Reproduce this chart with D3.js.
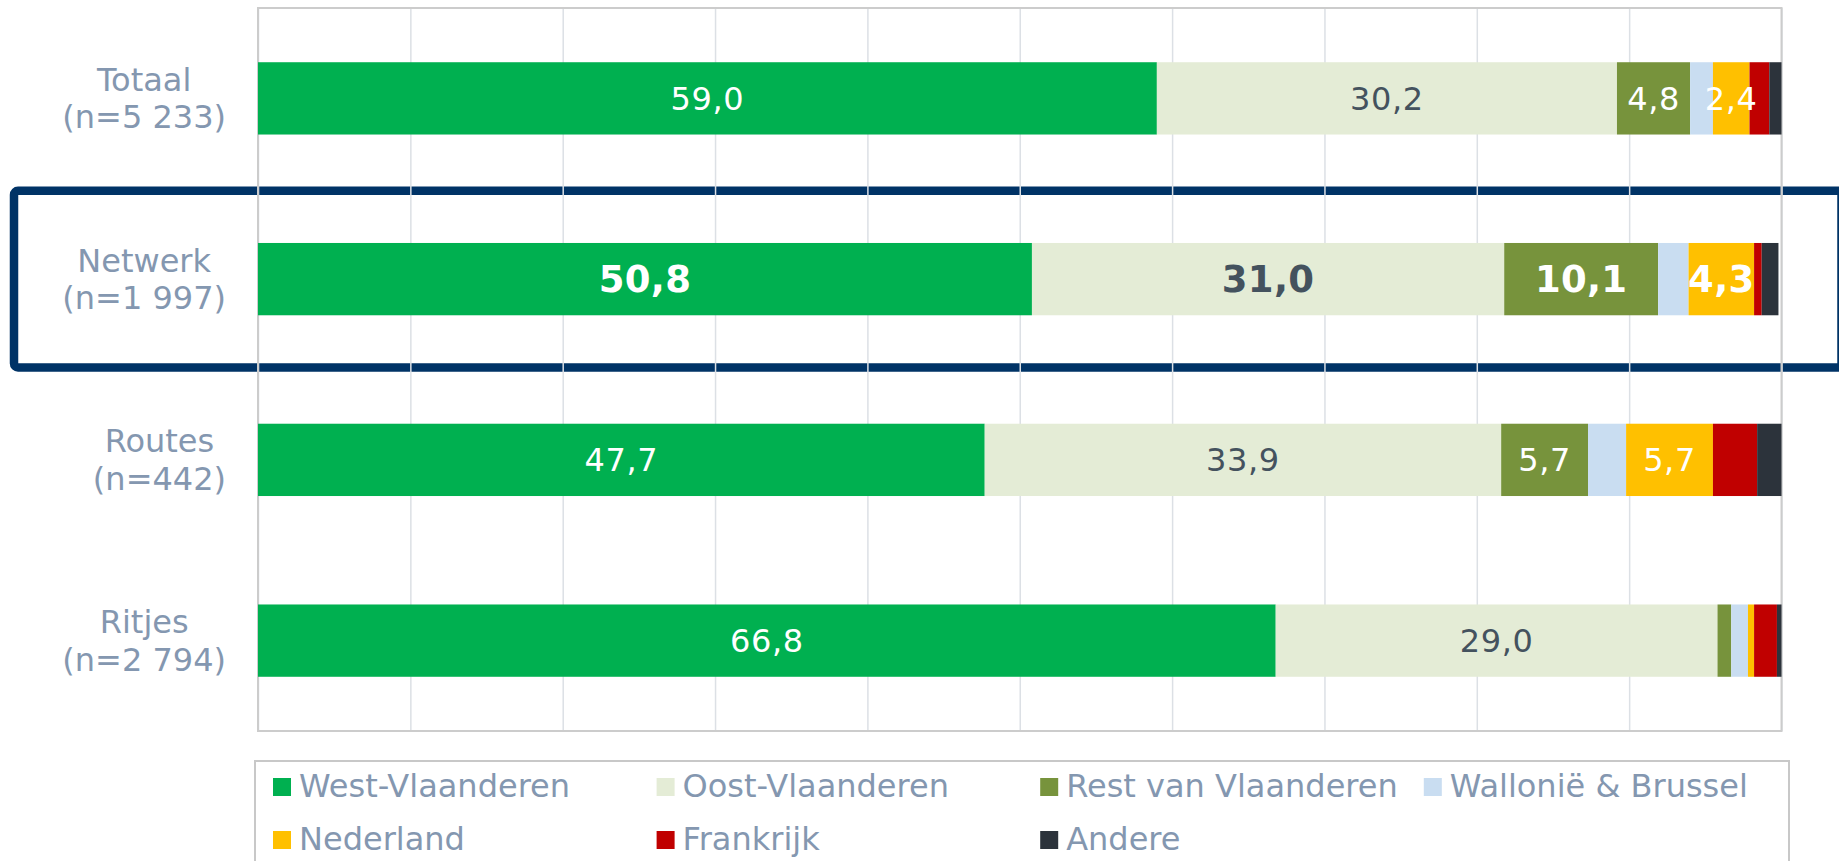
<!DOCTYPE html>
<html>
<head>
<meta charset="utf-8">
<script src="https://cdn.jsdelivr.net/npm/d3@7"></script>
<style>
  html, body { margin: 0; padding: 0; background: #ffffff; }
  svg { display: block; }
  text { font-family: Verdana, "DejaVu Sans", sans-serif; }
</style>
</head>
<body>
<svg id="chart" width="1839" height="861"></svg>
<script>
// ---- Data ----
const categories = ["Totaal", "Netwerk", "Routes", "Ritjes"];
const sampleSizes = ["(n=5 233)", "(n=1 997)", "(n=442)", "(n=2 794)"];
const highlighted = "Netwerk";

const seriesNames = ["West-Vlaanderen", "Oost-Vlaanderen", "Rest van Vlaanderen",
  "Wallonië & Brussel", "Nederland", "Frankrijk", "Andere"];
const westVlaanderen  = [59.0, 50.8, 47.7, 66.8];
const oostVlaanderen  = [30.2, 31.0, 33.9, 29.0];
const restVlaanderen  = [4.8, 10.1, 5.7, 0.9];
const wallonieBrussel = [1.5, 2.0, 2.5, 1.1];
const nederland       = [2.4, 4.3, 5.7, 0.4];
const frankrijk       = [1.3, 0.5, 2.9, 1.5];
const andere          = [0.8, 1.1, 1.6, 0.3];
const seriesColors = ["#00B050", "#E4ECD6", "#77933C", "#C9DDF1", "#FFC000", "#C00000", "#2C333B"];
const labelColors  = ["#FFFFFF", "#44525E", "#FFFFFF", null, "#FFFFFF", null, null];
const xTicks = [0, 10, 20, 30, 40, 50, 60, 70, 80, 90, 100];

const seriesValues = [westVlaanderen, oostVlaanderen, restVlaanderen, wallonieBrussel,
  nederland, frankrijk, andere];

// ---- Layout ----
const svg = d3.select("#chart");
const plot = { left: 258, right: 1781.5, top: 8, bottom: 731 };
const textGray = "#8497B0";

const x = d3.scaleLinear().domain([0, 100]).range([plot.left, plot.right]);
const y = d3.scaleBand().domain(categories).range([plot.top, plot.bottom])
  .paddingInner(0.6).paddingOuter(0.3);

const rows = categories.map((c, i) => {
  const r = { category: c };
  seriesNames.forEach((s, j) => r[s] = seriesValues[j][i]);
  return r;
});
const stacked = d3.stack().keys(seriesNames)(rows);

// Highlight box (behind gridlines)
const hc = y(highlighted) + y.bandwidth() / 2;
const hh = y.step() / 2 - 2;
svg.append("rect")
  .attr("x", 14).attr("y", hc - hh)
  .attr("width", 1827.5).attr("height", 2 * hh)
  .attr("rx", 4)
  .attr("fill", "none").attr("stroke", "#003366").attr("stroke-width", 8.5);

// Gridlines
const grid = svg.append("g").attr("transform", `translate(0,${plot.bottom})`)
  .call(d3.axisBottom(x).tickValues(xTicks).tickSize(-(plot.bottom - plot.top)).tickFormat(""));
grid.select(".domain").remove();
grid.selectAll(".tick line").attr("stroke", "#DCE0E5").attr("stroke-width", 1.5);

// Plot border
svg.append("rect")
  .attr("x", plot.left).attr("y", plot.top)
  .attr("width", plot.right - plot.left).attr("height", plot.bottom - plot.top)
  .attr("fill", "none").attr("stroke", "#CCCCCC").attr("stroke-width", 2);

// Bars
const fmt = v => d3.format(".1f")(v).replace(".", ",");
stacked.forEach((layer, j) => {
  const g = svg.append("g");
  g.selectAll("rect").data(layer).enter().append("rect")
    .attr("x", d => x(d[0]))
    .attr("y", d => y(d.data.category))
    .attr("width", d => x(d[1]) - x(d[0]))
    .attr("height", y.bandwidth())
    .attr("fill", seriesColors[j]);
});
// Labels
stacked.forEach((layer, j) => {
  if (!labelColors[j]) return;
  svg.append("g").selectAll("text").data(layer.filter(d => d[1] - d[0] >= 2)).enter().append("text")
    .attr("x", d => (x(d[0]) + x(d[1])) / 2)
    .attr("y", d => y(d.data.category) + y.bandwidth() / 2)
    .attr("dy", "0.36em")
    .attr("text-anchor", "middle")
    .attr("fill", labelColors[j])
    .attr("font-size", d => d.data.category === highlighted ? 37 : 32)
    .attr("letter-spacing", d => d.data.category === highlighted ? 0.3 : 0.6)
    .attr("font-weight", d => d.data.category === highlighted ? "bold" : "normal")
    .text(d => fmt(d[1] - d[0]));
});

// Category labels
const labelRight = 226;
categories.forEach((c, i) => {
  const cy = y(c) + y.bandwidth() / 2;
  const g = svg.append("g");
  const t1 = g.append("text").attr("font-size", 32).attr("fill", textGray)
    .attr("text-anchor", "middle").attr("y", cy - 7.5).text(c);
  const t2 = g.append("text").attr("font-size", 32).attr("fill", textGray)
    .attr("text-anchor", "middle").attr("y", cy + 30).text(sampleSizes[i]);
  const w = Math.max(t1.node().getComputedTextLength(), t2.node().getComputedTextLength());
  t1.attr("x", labelRight - w / 2);
  t2.attr("x", labelRight - w / 2);
});

// Legend
svg.append("rect")
  .attr("x", 255).attr("y", 761).attr("width", 1534).attr("height", 120)
  .attr("fill", "none").attr("stroke", "#C8C8C8").attr("stroke-width", 2);
const colW = 383.6;
seriesNames.forEach((s, j) => {
  const col = j % 4, row = Math.floor(j / 4);
  const lx = 273 + col * colW;
  const baseline = 797 + row * 53;
  svg.append("rect").attr("x", lx).attr("y", baseline - 19).attr("width", 18).attr("height", 18)
    .attr("fill", seriesColors[j]);
  svg.append("text").attr("x", lx + 26).attr("y", baseline)
    .attr("font-size", 32).attr("fill", textGray).text(s);
});
</script>
</body>
</html>
